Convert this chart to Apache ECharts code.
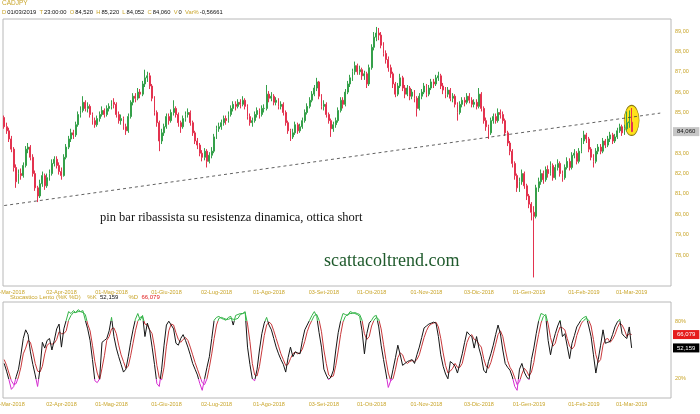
<!DOCTYPE html>
<html><head><meta charset="utf-8">
<script src="https://cdn.jsdelivr.net/npm/echarts@6/dist/echarts.min.js"></script>
<style>html,body{margin:0;padding:0;background:#fff}#c{width:700px;height:414px}</style>
</head><body><div id="c"></div>
<script>
// ---------- data ----------
const symbolName = 'CADJPY';
const startDate = [2018, 1, 27];      // first candle: 27 Feb 2018
const totalSlots = 280;               // trading-day slots on the axis (incl. empty future)
const monthNames = ['Gen','Feb','Mar','Apr','Mag','Giu','Lug','Ago','Set','Ott','Nov','Dic'];
const priceTicks = [78,79,80,81,82,83,84,85,86,87,88,89];
const stochTicks = [20,80];
// [open, close, low, high]
const candles = [
[84.75,84.30,84.20,84.85],[84.30,84.10,83.95,84.50],[84.10,83.70,83.55,84.25],[83.70,83.20,83.05,83.85],[83.20,82.30,82.10,83.30],
[82.30,81.60,81.30,82.45],[81.60,82.00,81.50,82.20],[82.00,81.90,81.70,82.25],[81.90,82.40,81.80,82.55],[82.40,83.20,82.30,83.35],
[83.20,83.30,83.00,83.50],[83.30,82.80,82.65,83.40],[82.80,82.00,81.85,82.95],[82.00,81.30,81.15,82.15],[81.30,80.90,80.60,81.40],
[80.90,81.50,80.80,81.70],[81.50,81.90,81.35,82.10],[81.90,81.40,81.20,82.00],[81.40,81.80,81.30,82.00],[81.80,82.00,81.65,82.20],
[82.00,82.50,81.90,82.70],[82.50,82.70,82.35,82.85],[82.70,82.40,82.25,82.85],[82.40,82.10,81.95,82.55],[82.10,81.90,81.70,82.30],
[81.90,82.80,81.85,82.95],[82.80,83.30,82.70,83.45],[83.30,83.70,83.20,83.85],[83.70,84.00,83.55,84.20],[84.00,83.90,83.70,84.15],
[83.90,84.40,83.80,84.55],[84.40,84.90,84.30,85.05],[84.90,85.10,84.75,85.30],[85.10,85.50,85.00,85.80],[85.50,85.20,85.05,85.60],
[85.20,85.30,85.00,85.50],[85.30,84.90,84.75,85.40],[84.90,84.60,84.40,85.00],[84.60,84.40,84.25,84.75],[84.40,84.70,84.30,84.85],
[84.70,84.90,84.55,85.05],[84.90,85.10,84.80,85.30],[85.10,84.90,84.75,85.20],[84.90,85.20,84.80,85.35],[85.20,85.30,85.05,85.45],
[85.30,85.50,85.15,85.60],[85.50,85.40,85.20,85.70],[85.40,84.90,84.75,85.50],[84.90,84.60,84.45,85.05],[84.60,84.70,84.40,84.90],
[84.70,84.30,84.15,84.80],[84.30,84.10,83.90,84.45],[84.10,84.80,84.00,84.95],[84.80,85.50,84.70,85.60],[85.50,85.80,85.35,85.95],
[85.80,85.70,85.50,85.95],[85.70,86.00,85.60,86.20],[86.00,85.90,85.70,86.15],[85.90,86.40,85.80,86.55],[86.40,86.70,86.25,87.10],
[86.70,86.80,86.50,87.00],[86.80,86.30,86.15,86.95],[86.30,85.70,85.55,86.40],[85.70,85.00,84.85,85.80],[85.00,84.50,84.30,85.10],
[84.50,83.60,83.10,84.60],[83.60,84.00,83.45,84.20],[84.00,84.30,83.85,84.45],[84.30,84.80,84.20,84.95],[84.80,84.60,84.40,84.95],
[84.60,85.00,84.50,85.15],[85.00,85.20,84.85,85.60],[85.20,84.90,84.75,85.30],[84.90,84.50,84.30,85.00],[84.50,84.30,84.00,84.60],
[84.30,84.70,84.20,84.85],[84.70,84.90,84.55,85.05],[84.90,85.00,84.75,85.20],[85.00,84.50,84.35,85.10],[84.50,84.00,83.85,84.60],
[84.00,83.60,83.45,84.10],[83.60,83.40,83.20,83.75],[83.40,83.00,82.85,83.50],[83.00,82.80,82.60,83.15],[82.80,83.10,82.65,83.25],
[83.10,82.60,82.30,83.20],[82.60,82.90,82.50,83.05],[82.90,83.10,82.75,83.30],[83.10,83.80,83.00,83.95],[83.80,84.20,83.70,84.35],
[84.20,84.30,84.05,84.50],[84.30,84.50,84.15,84.65],[84.50,84.70,84.35,84.85],[84.70,84.60,84.40,84.85],[84.60,84.90,84.50,85.05],
[84.90,85.20,84.80,85.35],[85.20,85.40,85.05,85.55],[85.40,85.30,85.10,85.55],[85.30,85.50,85.20,85.65],[85.50,85.40,85.20,85.65],
[85.40,85.60,85.30,85.80],[85.60,85.30,85.15,85.70],[85.30,84.80,84.65,85.40],[84.80,84.50,84.35,84.95],[84.50,84.60,84.30,84.75],
[84.60,84.90,84.50,85.05],[84.90,85.10,84.75,85.25],[85.10,84.90,84.70,85.20],[84.90,85.20,84.80,85.35],[85.20,85.20,85.00,85.40],
[85.20,85.90,85.10,86.35],[85.90,85.70,85.50,86.05],[85.70,85.80,85.55,86.00],[85.80,85.50,85.35,85.90],[85.50,85.60,85.35,85.75],
[85.60,85.30,85.15,85.70],[85.30,85.40,85.15,85.55],[85.40,85.00,84.85,85.50],[85.00,84.50,84.35,85.10],[84.50,84.10,83.95,84.60],
[84.10,83.80,83.60,84.20],[83.80,84.00,83.70,84.20],[84.00,84.40,83.90,84.55],[84.40,84.10,83.95,84.50],[84.10,84.30,84.00,84.45],
[84.30,84.60,84.20,84.75],[84.60,85.00,84.50,85.15],[85.00,85.30,84.90,85.45],[85.30,85.60,85.20,85.75],[85.60,85.90,85.50,86.05],
[85.90,86.20,85.80,86.35],[86.20,86.50,86.05,86.70],[86.50,85.80,85.65,86.55],[85.80,85.30,85.15,85.90],[85.30,85.40,85.10,85.60],
[85.40,84.90,84.75,85.50],[84.90,84.60,84.45,85.00],[84.60,84.20,83.80,84.70],[84.20,84.40,84.05,84.55],[84.40,84.60,84.25,84.75],
[84.60,85.10,84.50,85.25],[85.10,85.60,85.00,85.75],[85.60,85.40,85.20,85.75],[85.40,86.00,85.30,86.15],[86.00,86.40,85.90,86.55],
[86.40,86.70,86.25,86.85],[86.70,87.00,86.55,87.15],[87.00,87.30,86.85,87.50],[87.30,87.00,86.85,87.40],[87.00,87.10,86.85,87.30],
[87.10,86.80,86.60,87.20],[86.80,86.90,86.60,87.05],[86.90,86.40,86.20,87.00],[86.40,87.20,86.30,87.35],[87.20,88.20,87.10,88.35],
[88.20,88.70,88.05,88.95],[88.70,88.90,88.50,89.20],[88.90,88.80,88.55,89.15],[88.80,88.30,88.15,88.95],[88.30,87.90,87.75,88.45],
[87.90,87.60,87.40,88.05],[87.60,87.20,87.00,87.75],[87.20,86.90,86.70,87.35],[86.90,86.40,86.20,87.00],[86.40,85.90,85.75,86.50],
[85.90,86.30,85.80,86.45],[86.30,86.70,86.20,86.90],[86.70,86.20,86.05,86.80],[86.20,85.90,85.70,86.35],[85.90,86.20,85.80,86.35],
[86.20,85.80,85.60,86.30],[85.80,86.00,85.65,86.15],[86.00,85.70,85.50,86.10],[85.70,85.20,84.80,85.80],[85.20,85.80,85.10,85.95],
[85.80,86.00,85.65,86.15],[86.00,86.30,85.90,86.45],[86.30,85.90,85.75,86.40],[85.90,86.20,85.80,86.35],[86.20,86.50,86.10,86.65],
[86.50,86.40,86.20,86.65],[86.40,86.70,86.30,86.85],[86.70,86.80,86.55,87.00],[86.80,86.30,86.15,86.90],[86.30,86.10,85.90,86.45],
[86.10,85.90,85.70,86.25],[85.90,86.10,85.75,86.25],[86.10,85.70,85.55,86.20],[85.70,85.80,85.50,85.95],[85.80,85.40,85.25,85.90],
[85.40,85.00,84.60,85.50],[85.00,85.40,84.90,85.55],[85.40,85.60,85.25,85.75],[85.60,85.50,85.30,85.75],[85.50,85.80,85.40,85.95],
[85.80,85.60,85.45,85.95],[85.60,85.40,85.25,85.75],[85.40,85.50,85.25,85.65],[85.50,85.30,85.15,85.65],[85.30,85.90,85.20,86.20],
[85.90,85.20,85.05,86.00],[85.20,84.60,84.45,85.30],[84.60,84.30,84.10,84.75],[84.30,84.00,83.70,84.40],[84.00,84.60,83.90,84.75],
[84.60,84.80,84.45,84.95],[84.80,84.60,84.45,84.95],[84.60,85.00,84.50,85.20],[85.00,84.90,84.70,85.15],[84.90,84.60,84.45,85.05],
[84.60,84.00,83.85,84.70],[84.00,83.50,83.35,84.10],[83.50,83.10,82.90,83.60],[83.10,82.50,82.30,83.20],[82.50,81.90,81.70,82.60],
[81.90,81.30,81.10,82.00],[81.30,81.60,81.10,81.80],[81.60,82.00,81.45,82.20],[82.00,81.40,81.25,82.10],[81.40,80.90,80.70,81.50],
[80.90,80.50,80.30,81.00],[80.50,80.10,79.70,80.60],[80.10,79.90,76.90,80.40],[79.90,81.30,79.80,81.45],[81.30,81.60,81.10,81.80],
[81.60,82.00,81.45,82.20],[82.00,81.70,81.50,82.15],[81.70,82.20,81.60,82.35],[82.20,82.00,81.80,82.40],[82.00,82.40,81.90,82.60],
[82.40,81.80,81.65,82.50],[81.80,82.30,81.70,82.45],[82.30,82.50,82.15,82.70],[82.50,82.00,81.85,82.60],[82.00,81.80,81.60,82.15],
[81.80,82.30,81.70,82.45],[82.30,82.60,82.20,82.80],[82.60,82.30,82.15,82.75],[82.30,82.90,82.20,83.05],[82.90,83.00,82.75,83.20],
[83.00,82.60,82.45,83.10],[82.60,83.10,82.50,83.25],[83.10,83.60,83.00,83.75],[83.60,83.90,83.45,84.10],[83.90,83.70,83.50,84.00],
[83.70,83.20,83.05,83.80],[83.20,82.80,82.65,83.30],[82.80,82.60,82.30,82.95],[82.60,83.10,82.50,83.25],[83.10,83.30,82.95,83.45],
[83.30,83.10,82.95,83.45],[83.10,83.60,83.00,83.75],[83.60,83.40,83.25,83.70],[83.40,83.70,83.30,83.85],[83.70,83.90,83.55,84.05],
[83.90,83.60,83.45,84.00],[83.60,83.80,83.50,83.95],[83.80,84.10,83.70,84.25],[84.10,84.30,84.00,84.45],[84.30,84.00,83.85,84.40],
[84.00,84.20,83.90,84.40],[84.20,84.50,84.10,85.05],[84.50,84.54,84.25,85.10],[84.52,84.06,84.052,85.22]
];
const stochK = [
36,28,19,9,12,22,30,45,62,71,66,48,35,24,12,30,58,52,60,62,
50,60,72,77,53,72,81,90,88,91,89,92,90,91,81,72,60,40,18,16,
20,58,60,62,70,84,64,52,43,35,27,30,43,58,71,82,88,81,86,64,
78,70,53,35,15,12,30,55,76,80,76,72,57,55,62,66,60,53,45,36,
30,24,15,8,20,32,43,62,81,84,85,83,82,81,84,85,76,86,87,88,
88,90,53,35,20,18,30,50,67,78,84,76,71,62,53,46,40,35,27,42,
53,43,48,47,46,60,71,76,81,86,90,85,68,53,30,24,19,22,29,50,
68,80,88,87,86,90,89,88,87,85,70,46,67,78,81,85,86,74,55,40,
26,11,18,30,42,55,45,34,36,38,39,40,36,45,53,63,73,75,77,78,
79,78,64,45,33,25,20,38,36,33,26,36,46,58,69,66,64,52,64,52,
43,29,26,38,46,55,66,76,67,50,36,32,29,22,12,8,30,36,27,22,
19,40,52,67,80,88,87,85,60,45,58,67,75,81,64,67,54,41,57,65,
74,78,82,84,85,75,64,45,26,40,55,71,57,58,59,66,74,79,82,67,
64,62,74,52.159
];
const stochD = [
40,34,26,18,14,15,22,32,46,52,60,58,48,36,28,27,33,46,55,57,
56,57,61,69,67,67,70,81,86,89,89,90,90,89,87,77,70,55,38,26,
19,31,44,60,64,72,73,67,55,45,38,31,33,44,57,70,80,84,85,77,
76,71,67,53,34,21,19,32,54,70,77,76,68,61,58,61,63,60,53,45,
37,30,23,16,14,20,32,46,62,76,83,84,83,82,82,83,82,82,83,87,
88,89,77,59,36,24,23,33,49,65,76,79,77,70,62,54,46,40,34,35,
41,46,48,46,47,51,59,69,76,81,86,87,81,69,50,36,24,22,23,34,
49,66,79,85,87,88,88,89,88,87,81,67,61,64,75,81,84,82,72,56,
40,26,18,20,30,42,47,45,38,36,38,39,38,40,45,54,63,70,75,77,
78,79,74,62,47,34,26,28,31,36,32,32,36,47,58,64,66,61,60,56,
53,41,33,31,37,46,56,66,70,64,51,39,32,28,21,14,17,25,31,28,
23,27,37,53,66,78,85,87,77,63,54,57,67,74,73,71,62,54,51,54,
65,72,78,81,83,81,75,61,45,37,40,55,61,62,58,61,66,73,78,76,
71,64,67,66.079
];
const trendLine = [[0, 80.43], [275, 84.97]];   // [slot index, price]
const highlight = [263, 84.61];                  // ellipse centre [slot index, price]
const infoLine = {D:'01/03/2019', T:'23:00:00', O:'84,520', H:'85,220', L:'84,052', C:'84,060', V:'0', 'Var%':'-0,56661'};
const lastClose = 84.06, lastK = 52.159, lastD = 66.079;

// ---------- helpers ----------
const dates = [];
(function(){
  let t = Date.UTC(startDate[0], startDate[1], startDate[2]);
  while (dates.length < totalSlots) {
    const d = new Date(t); const wd = d.getUTCDay();
    if (wd !== 0 && wd !== 6) dates.push(d.toISOString().slice(0,10));
    t += 86400000;
  }
})();
const isMonthStart = idx => idx > 0 && dates[idx].slice(5,7) !== dates[idx-1].slice(5,7);
const fmtDate = v => { const p = v.split('-'); return p[2] + '-' + monthNames[+p[1]-1] + '-' + p[0]; };
const it = (v, d) => v.toFixed(d).replace('.', ',');

const GOLD = '#c9a52a';
const FONT = 'Liberation Sans';
const UP = '#35a04a', DOWN = '#e3334f';
const NOLINE = {color: 'rgba(0,0,0,0)', width: 0};

const infoRich = Object.keys(infoLine).map(k => '{g|' + k + '}{v|' + infoLine[k] + '}').join('  ');

const tag = (text, bg, fg) => ({show: true, position: 'end', distance: 2, formatter: text,
  backgroundColor: bg, color: fg, padding: [2,4,1,4], fontSize: 6, fontFamily: FONT, opacity: 1});

const chart = echarts.init(document.getElementById('c'), null, {renderer:'canvas'});
chart.setOption({
  animation: false,
  backgroundColor: '#fff',
  textStyle: {fontFamily: FONT},
  title: [
    {left: 2, top: 0, padding: 0, text: symbolName, textStyle: {color: GOLD, fontSize: 6.5, fontWeight: 'normal', fontFamily: FONT}},
    {left: 2, top: 9, padding: 0, text: infoRich, textStyle: {fontSize: 5.8, fontWeight: 'normal', fontFamily: FONT,
      rich: {g: {color: GOLD, fontSize: 5.8, fontFamily: FONT, padding:[0,1,0,0]}, v: {color: '#111', fontSize: 5.8, fontFamily: FONT}}}},
    {left: 10, top: 294, padding: 0,
      text: '{g|Stocastico Lento (%K %D)}    {g|%K}  {k|' + it(lastK,3) + '}      {g|%D}  {d|' + it(lastD,3) + '}',
      textStyle: {fontSize: 6, fontWeight: 'normal', fontFamily: FONT,
      rich: {g: {color: GOLD, fontSize: 6, fontFamily: FONT}, k: {color: '#111', fontSize: 6, fontFamily: FONT}, d: {color: '#e01b1b', fontSize: 6, fontFamily: FONT}}}}
  ],
  grid: [
    {left: 3, right: 29, top: 19, height: 267, show: true, borderColor: '#b8b8b8', borderWidth: 1, backgroundColor: '#fff', containLabel: false, outerBoundsMode: 'none'},
    {left: 3, right: 29, top: 302, height: 96, show: true, borderColor: '#b8b8b8', borderWidth: 1, backgroundColor: '#fff', containLabel: false, outerBoundsMode: 'none'}
  ],
  xAxis: [0,1].map(g => ({
    type: 'category', gridIndex: g, data: dates, boundaryGap: true,
    axisLine: {show: false}, axisTick: {show: false}, splitLine: {show: false},
    axisLabel: {interval: isMonthStart, formatter: fmtDate, color: GOLD, fontSize: 5.5, margin: 3, fontFamily: FONT}
  })),
  yAxis: [
    {type: 'value', gridIndex: 0, position: 'right', min: 76.48, max: 89.59, scale: true,
     axisLine: {show: false}, axisTick: {show: false}, splitLine: {show: false},
     axisLabel: {customValues: priceTicks, formatter: v => it(v, 2), color: GOLD, fontSize: 5.5, margin: 4, fontFamily: FONT}},
    {type: 'value', gridIndex: 1, position: 'right', min: 0, max: 100,
     axisLine: {show: false}, axisTick: {show: false}, splitLine: {show: false},
     axisLabel: {customValues: stochTicks, formatter: v => v + '%', color: GOLD, fontSize: 5.5, margin: 4, fontFamily: FONT}}
  ],
  visualMap: [
    {type: 'piecewise', show: false, seriesIndex: 2, dimension: 1,
     pieces: [{lt: 20, color: '#d42bd0'}, {gte: 20, lte: 80, color: '#151515'}, {gt: 80, color: '#33b347'}]},
    {type: 'piecewise', show: false, seriesIndex: 3, dimension: 1,
     pieces: [{lt: 20, color: '#d42bd0'}, {gte: 20, lte: 80, color: '#c8373a'}, {gt: 80, color: '#33b347'}]}
  ],
  series: [
    {type: 'candlestick', xAxisIndex: 0, yAxisIndex: 0, data: candles, barWidth: 1.4, z: 3,
     itemStyle: {color: UP, color0: DOWN, borderColor: UP, borderColor0: DOWN, borderWidth: 1},
     markLine: {symbol: ['none','none'], silent: true, animation: false,
       data: [
         [{coord: [dates[trendLine[0][0]], trendLine[0][1]], lineStyle: {color: '#3a3a3a', type: [3,3], width: 0.8}, label: {show: false}},
          {coord: [dates[trendLine[1][0]], trendLine[1][1]]}],
         {yAxis: lastClose, lineStyle: NOLINE, label: tag(it(lastClose,3), '#c6c6c6', '#111')}
       ]}},
    {type: 'scatter', xAxisIndex: 0, yAxisIndex: 0, z: 2, silent: true,
     data: [[dates[highlight[0]], highlight[1]]], symbol: 'circle', symbolSize: [15, 30],
     itemStyle: {color: '#ffe21a', borderColor: '#8c7a10', borderWidth: 0.8, opacity: 1}},
    {type: 'line', xAxisIndex: 1, yAxisIndex: 1, data: stochK, showSymbol: false, symbol: 'none', lineStyle: {width: 1}, z: 4,
     markLine: {symbol: ['none','none'], silent: true, animation: false,
       data: [{yAxis: lastK, lineStyle: NOLINE, label: tag(it(lastK,3), '#000', '#fff')}]}},
    {type: 'line', xAxisIndex: 1, yAxisIndex: 1, data: stochD, showSymbol: false, symbol: 'none', lineStyle: {width: 1}, z: 3,
     markLine: {symbol: ['none','none'], silent: true, animation: false,
       data: [{yAxis: lastD, lineStyle: NOLINE, label: tag(it(lastD,3), '#e51c1c', '#fff')}]}}
  ],
  graphic: [
    {type: 'text', left: 100, top: 211, z: 10, silent: true,
     style: {text: 'pin bar ribassista su resistenza dinamica, ottica short', fill: '#111', font: '12.5px "Liberation Serif"'}},
    {type: 'text', left: 324, top: 252, z: 10, silent: true,
     style: {text: 'scattacoltrend.com', fill: '#1f5a2c', font: '18px "Liberation Serif"'}}
  ]
});
</script></body></html>
